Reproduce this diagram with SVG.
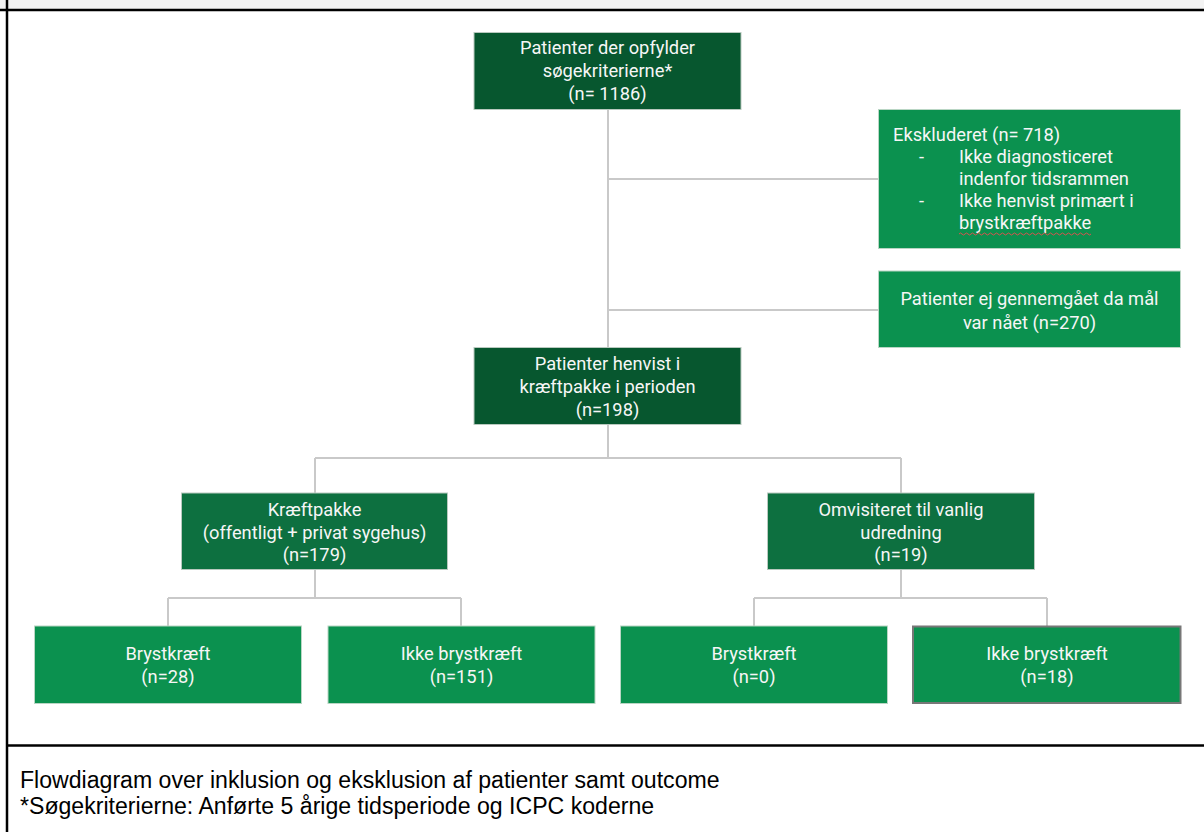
<svg xmlns="http://www.w3.org/2000/svg" width="1204" height="832" viewBox="0 0 1204 832">
<defs>
<style>
.dark{fill:#07572f;stroke:#b9c9bf;stroke-width:1}
.mid{fill:#0d7040;stroke:#b9c9bf;stroke-width:1}
.bright{fill:#0b914f;stroke:#b9d6c4;stroke-width:1}
.t{font-family:Roboto,"Liberation Sans",sans-serif;font-size:18.3px;fill:#f6f6f6;text-anchor:middle}
.tl{font-family:Roboto,"Liberation Sans",sans-serif;font-size:18.3px;fill:#f6f6f6}
.conn{fill:none;stroke:#c9c9c9;stroke-width:2}
.cap{font-family:"Liberation Sans",Arial,sans-serif;font-size:23.1px;fill:#000}
</style>
</defs>
<rect x="0" y="0" width="1204" height="832" fill="#ffffff"/>
<rect x="0" y="0" width="1204" height="9" fill="#f3f3f3"/>
<line x1="0" y1="10" x2="1204" y2="10" stroke="#000" stroke-width="2.5"/>
<line x1="7" y1="0" x2="7" y2="832" stroke="#000" stroke-width="2.5"/>
<line x1="7" y1="745.5" x2="1204" y2="745.5" stroke="#000" stroke-width="2.5"/>

<g id="connectors">
<path class="conn" d="M608 109 V348 M608 179 H878 M608 310 H878"/>
<path class="conn" d="M608 424 V458 M315 458 H901 M315 458 V493 M901 458 V493"/>
<path class="conn" d="M315 569 V598 M168 598 H461 M168 598 V626 M461 598 V626"/>
<path class="conn" d="M901 569 V598 M754 598 H1047 M754 598 V626 M1047 598 V626"/>
</g>

<g id="n-top">
<rect class="dark" x="474" y="32.5" width="267" height="77"/>
<text class="t" x="607.5" y="54">Patienter der opfylder</text>
<text class="t" x="607.5" y="77">søgekriterierne*</text>
<text class="t" x="607.5" y="100">(n= 1186)</text>
</g>

<g id="n-excl">
<rect class="bright" x="878.5" y="109.5" width="302" height="139"/>
<text class="tl" x="893" y="141">Ekskluderet (n= 718)</text>
<text class="tl" x="919" y="163">-</text>
<text class="tl" x="959" y="163">Ikke diagnosticeret</text>
<text class="tl" x="959" y="185">indenfor tidsrammen</text>
<text class="tl" x="919" y="207">-</text>
<text class="tl" x="959" y="207">Ikke henvist primært i</text>
<text class="tl" x="959" y="229">brystkræftpakke</text>
<path d="M959 234 q1.5 -2 3 0 t3 0 t3 0 t3 0 t3 0 t3 0 t3 0 t3 0 t3 0 t3 0 t3 0 t3 0 t3 0 t3 0 t3 0 t3 0 t3 0 t3 0 t3 0 t3 0 t3 0 t3 0 t3 0 t3 0 t3 0 t3 0 t3 0 t3 0 t3 0 t3 0 t3 0 t3 0 t3 0 t3 0 t3 0 t3 0 t3 0 t3 0 t3 0 t3 0 t3 0 t3 0 t3 0 t3 0" fill="none" stroke="#d9534f" stroke-width="1"/>
</g>

<g id="n-notreviewed">
<rect class="bright" x="878.5" y="271" width="302" height="76.5"/>
<text class="t" x="1029.5" y="305">Patienter ej gennemgået da mål</text>
<text class="t" x="1029.5" y="329">var nået (n=270)</text>
</g>

<g id="n-referred">
<rect class="dark" x="474" y="347.5" width="267" height="77"/>
<text class="t" x="607.5" y="370">Patienter henvist i</text>
<text class="t" x="607.5" y="393">kræftpakke i perioden</text>
<text class="t" x="607.5" y="416">(n=198)</text>
</g>

<g id="n-kraeftpakke">
<rect class="mid" x="181.5" y="493" width="266" height="76.5"/>
<text class="t" x="314.5" y="516">Kræftpakke</text>
<text class="t" x="314.5" y="538.5">(offentligt + privat sygehus)</text>
<text class="t" x="314.5" y="561">(n=179)</text>
</g>

<g id="n-omvisiteret">
<rect class="mid" x="767.5" y="493" width="267" height="76.5"/>
<text class="t" x="901" y="516">Omvisiteret til vanlig</text>
<text class="t" x="901" y="538.5">udredning</text>
<text class="t" x="901" y="561">(n=19)</text>
</g>

<g id="n-b1">
<rect class="bright" x="34.5" y="626" width="267" height="77.5"/>
<text class="t" x="168" y="660">Brystkræft</text>
<text class="t" x="168" y="683">(n=28)</text>
</g>

<g id="n-b2">
<rect class="bright" x="328" y="626" width="267" height="77.5"/>
<text class="t" x="461.5" y="660">Ikke brystkræft</text>
<text class="t" x="461.5" y="683">(n=151)</text>
</g>

<g id="n-b3">
<rect class="bright" x="620.5" y="626" width="267" height="77.5"/>
<text class="t" x="754" y="660">Brystkræft</text>
<text class="t" x="754" y="683">(n=0)</text>
</g>

<g id="n-b4">
<rect x="913" y="626.5" width="267.5" height="76.5" fill="#0b914f" stroke="#777777" stroke-width="2"/>
<text class="t" x="1047" y="660">Ikke brystkræft</text>
<text class="t" x="1047" y="683">(n=18)</text>
</g>

<text class="cap" x="20" y="788">Flowdiagram over inklusion og eksklusion af patienter samt outcome</text>
<text class="cap" x="20" y="814">*Søgekriterierne: Anførte 5 årige tidsperiode og ICPC koderne</text>
</svg>
